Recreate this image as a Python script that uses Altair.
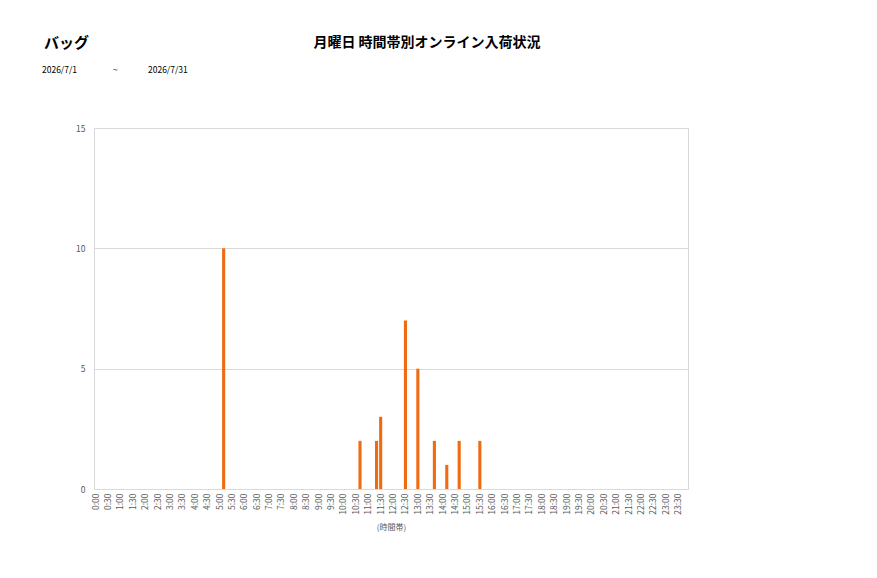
import altair as alt
import pandas as pd

# 10-minute slots for the category axis
slot_labels = [f"{h}:{m:02d}" for h in range(24) for m in (0, 10, 20, 30, 40, 50)]

times = ["5:10", "10:40", "11:20", "11:30", "12:30", "13:00", "13:40", "14:10", "14:40", "15:30"]
counts = [10, 2, 2, 3, 7, 5, 2, 1, 2, 2]

category = "バッグ"
title_text = "月曜日 時間帯別オンライン入荷状況"
date_from = "2026/7/1"
date_sep = "~"
date_to = "2026/7/31"

df = pd.DataFrame({"slot": times, "count": counts})
FONT = "Noto Sans CJK JP"

bars = alt.Chart(df).mark_bar(color="#F06A10").encode(
    x=alt.X(
        "slot:N",
        scale=alt.Scale(domain=slot_labels, paddingInner=0.25, paddingOuter=0.0),
        axis=alt.Axis(
            title="(時間帯)",
            titleFont=FONT,
            titleFontSize=8,
            titleFontWeight="normal",
            titleColor="#595959",
            titlePadding=9,
            labelAngle=270,
            labelFont=FONT,
            labelFontSize=8.5,
            labelColor="#595959",
            labelPadding=4,
            ticks=False,
            domainColor="#d9d9d9",
            labelExpr="(indexof(datum.label, ':00') >= 0 || indexof(datum.label, ':30') >= 0) ? datum.label : ''",
            labelOverlap=False,
        ),
    ),
    y=alt.Y(
        "count:Q",
        scale=alt.Scale(domain=[0, 15]),
        axis=alt.Axis(
            title=None,
            values=[0, 5, 10, 15],
            labelFont=FONT,
            labelFontSize=8.5,
            labelColor="#595959",
            labelPadding=9,
            ticks=False,
            domain=False,
            gridColor="#d9d9d9",
        ),
    ),
)

one = pd.DataFrame({"k": [0]})

def txt(s, x, y, size, bold=False, align="left"):
    return alt.Chart(one).mark_text(
        text=s, font=FONT, fontSize=size, fontWeight="bold" if bold else "normal",
        align=align, baseline="middle", color="#000000",
    ).encode(x=alt.value(x), y=alt.value(y))

chart = alt.layer(
    bars,
    txt(title_text, 333, -85, 14, True, "center"),
    txt(category, -50, -85, 15, True, "left"),
    txt(date_from, -52, -58, 8.5),
    txt(date_sep, 19, -58, 8.5),
    txt(date_to, 54, -58, 8.5),
).properties(
    width=594,
    height=361,
    autosize=alt.AutoSizeParams(type="none"),
    padding={"left": 86, "top": 120, "right": 170, "bottom": 70},
).configure_view(stroke="#d9d9d9", strokeWidth=1)

chart.save("out.html", embed_options={"renderer": "svg", "actions": False})
